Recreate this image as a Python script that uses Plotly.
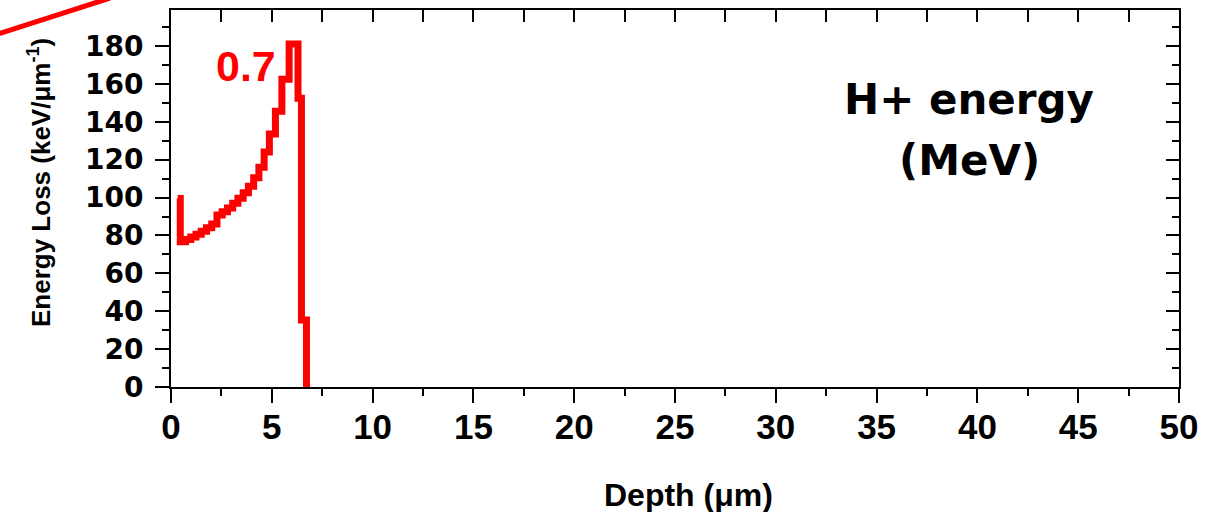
import plotly.graph_objects as go

# ---- data ----
depth_um = [0.33, 0.46, 0.72, 0.98, 1.24, 1.50, 1.76, 2.02, 2.28, 2.54, 2.80, 3.06,
            3.32, 3.58, 3.84, 4.10, 4.36, 4.62, 4.88, 5.18, 5.50, 5.86, 6.30, 6.47,
            6.72, 6.90]
energy_loss = [99.5, 76.7, 77.8, 79.2, 80.6, 82.2, 84.0, 86.0, 90.8, 92.5, 94.5, 97.0,
               99.6, 102.5, 106.0, 110.5, 116.0, 124.0, 133.5, 145.5, 162.5, 181.0, 152.4, 35.4,
               0.0, 0.0]
series_label = "0.7"
x_ticks = [0, 5, 10, 15, 20, 25, 30, 35, 40, 45, 50]
y_ticks = [0, 20, 40, 60, 80, 100, 120, 140, 160, 180]

W, H = 1208, 512
L, R, T, B = 171, 29, 10, 125
pw, ph = W - L - R, H - T - B

def px2paper(px, py):
    return (px - L) / pw, (H - B - py) / ph

fig = go.Figure()
fig.add_trace(go.Scatter(
    x=depth_um, y=energy_loss, mode="lines",
    line=dict(color="#ff0000", width=7, shape="hv"),
    showlegend=False, hoverinfo="skip"))
# invisible trace to activate the mirror axes
fig.add_trace(go.Scatter(x=[None], y=[None], xaxis="x2", yaxis="y2", showlegend=False))

axis_common = dict(showgrid=False, zeroline=False, showline=True, linecolor="black",
                   linewidth=2, tickcolor="black", tickwidth=2)

fig.update_layout(
    width=W, height=H, autosize=False,
    margin=dict(l=L, r=R, t=T, b=B, pad=0),
    paper_bgcolor="white", plot_bgcolor="white",
    xaxis=dict(range=[0, 50], tickvals=x_ticks, ticktext=[str(v) for v in x_ticks],
               ticks="outside", ticklen=14,
               minor=dict(dtick=2.5, ticklen=7, tickwidth=2, tickcolor="black", ticks="outside"),
               tickfont=dict(family="Liberation Sans", size=35, color="black", weight="bold"),
               ticklabelstandoff=-6,
               **axis_common),
    yaxis=dict(range=[0, 199], tickvals=y_ticks, ticktext=[str(v) for v in y_ticks],
               ticks="outside", ticklen=14,
               minor=dict(dtick=10, ticklen=7, tickwidth=2, tickcolor="black", ticks="outside"),
               tickfont=dict(family="DejaVu Sans", size=28, color="black", weight="bold"),
               ticklabelstandoff=6,
               **axis_common),
    xaxis2=dict(range=[0, 50], overlaying="x", side="top", dtick=2.5, ticks="inside",
                ticklen=12, showticklabels=False, **axis_common),
    yaxis2=dict(range=[0, 199], overlaying="y", side="right", dtick=20, ticks="inside",
                ticklen=13, showticklabels=False,
                minor=dict(dtick=10, ticklen=7, tickwidth=2, tickcolor="black", ticks="inside"),
                **axis_common),
)

# axis titles
xt, yt = px2paper(688, 495)
fig.add_annotation(text="Depth (μm)", xref="paper", yref="paper", x=xt, y=yt,
                   showarrow=False, xanchor="center", yanchor="middle",
                   font=dict(family="Liberation Sans", size=32, color="black", weight="bold"))
xt, yt = px2paper(39, 183)
fig.add_annotation(text="Energy Loss (keV/μm<sup>-1</sup>)", xref="paper", yref="paper",
                   x=xt, y=yt, textangle=-90, showarrow=False,
                   xanchor="center", yanchor="middle",
                   font=dict(family="Liberation Sans", size=26, color="black", weight="bold"))

# series label
fig.add_annotation(text=series_label, x=3.73, y=169.5, xref="x", yref="y", showarrow=False,
                   xanchor="center", yanchor="middle",
                   font=dict(family="Liberation Sans", size=43, color="#ff0000", weight="bold"))

# legend-like heading (two lines)
for line_text, cy in (("H+ energy", 99), ("(MeV)", 160)):
    xt, yt = px2paper(969, cy)
    fig.add_annotation(text=line_text, xref="paper", yref="paper", x=xt, y=yt,
                       showarrow=False, xanchor="center", yanchor="middle", align="center",
                       font=dict(family="DejaVu Sans", size=42, color="black", weight="bold"))

# red stroke in the top-left corner (cropped decoration)
x0, y0 = px2paper(-5, 35)
x1, y1 = px2paper(110, -2)
fig.add_shape(type="line", xref="paper", yref="paper", x0=x0, y0=y0, x1=x1, y1=y1,
              line=dict(color="#ff0000", width=5), layer="above")

fig.write_html("out.html", config={"displayModeBar": False},
               post_script="document.body.style.margin='0';document.body.style.overflow='hidden';")
